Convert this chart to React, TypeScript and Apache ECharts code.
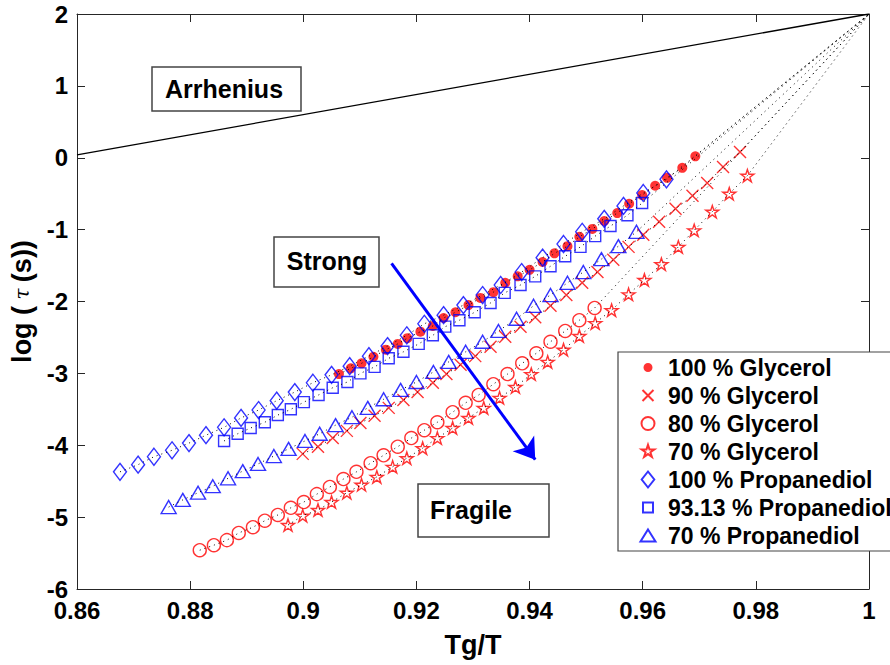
import React, { useEffect, useRef } from 'react';
import * as echarts from 'echarts';

// Relaxation time data: [Tg/T, log10(tau / s)]
const glycerol100 = [
  [0.9063, -3.01], [0.9084, -2.93], [0.9103, -2.86], [0.9124, -2.77], [0.9146, -2.67],
  [0.9167, -2.59], [0.9184, -2.51], [0.9207, -2.42], [0.9229, -2.34], [0.9248, -2.23],
  [0.9269, -2.15], [0.9292, -2.05], [0.9313, -1.95], [0.9336, -1.87], [0.9357, -1.74],
  [0.9379, -1.65], [0.94, -1.56], [0.9423, -1.45], [0.9444, -1.33], [0.9467, -1.23],
  [0.9488, -1.1], [0.9511, -0.99], [0.9532, -0.88], [0.9555, -0.77], [0.9576, -0.64],
  [0.9599, -0.52], [0.9622, -0.39], [0.9643, -0.28], [0.967, -0.14], [0.9693, 0.02],
];

const glycerol90 = [
  [0.8999, -4.12], [0.9026, -4.02], [0.9052, -3.9], [0.9077, -3.8], [0.9101, -3.69],
  [0.9126, -3.59], [0.9151, -3.48], [0.9177, -3.37], [0.9202, -3.26], [0.9229, -3.13],
  [0.9253, -3.01], [0.9278, -2.88], [0.9304, -2.76], [0.9331, -2.63], [0.9357, -2.49],
  [0.9384, -2.35], [0.941, -2.22], [0.9437, -2.06], [0.9465, -1.91], [0.9493, -1.74],
  [0.952, -1.59], [0.9548, -1.42], [0.9575, -1.24], [0.9601, -1.07], [0.9629, -0.89],
  [0.9658, -0.71], [0.9688, -0.53], [0.9714, -0.35], [0.9742, -0.13], [0.9772, 0.08],
];

const glycerol80 = [
  [0.8817, -5.46], [0.8842, -5.39], [0.8865, -5.32], [0.8886, -5.22], [0.8911, -5.14],
  [0.8932, -5.05], [0.8955, -4.97], [0.8978, -4.87], [0.9001, -4.79], [0.9024, -4.68],
  [0.9047, -4.58], [0.9071, -4.47], [0.9094, -4.37], [0.9119, -4.25], [0.9142, -4.14],
  [0.9167, -4.02], [0.9191, -3.9], [0.9214, -3.79], [0.9237, -3.68], [0.9264, -3.54],
  [0.9287, -3.41], [0.931, -3.3], [0.9336, -3.15], [0.9361, -3.01], [0.9387, -2.86],
  [0.9412, -2.72], [0.9437, -2.56], [0.9463, -2.41], [0.9488, -2.26], [0.9515, -2.09],
];

const glycerol70 = [
  [0.8973, -5.11], [0.8999, -4.98], [0.9026, -4.9], [0.905, -4.79], [0.9077, -4.66],
  [0.9103, -4.55], [0.913, -4.44], [0.9158, -4.3], [0.9183, -4.18], [0.9211, -4.04],
  [0.9237, -3.9], [0.9264, -3.76], [0.9292, -3.62], [0.9319, -3.48], [0.9347, -3.34],
  [0.9375, -3.19], [0.9403, -3.01], [0.9432, -2.84], [0.946, -2.67], [0.9488, -2.48],
  [0.9516, -2.3], [0.9545, -2.12], [0.9575, -1.9], [0.9603, -1.7], [0.9633, -1.48],
  [0.9663, -1.24], [0.9691, -1.01], [0.9723, -0.75], [0.9753, -0.5], [0.9785, -0.25],
];

const propanediol100 = [
  [0.8676, -4.37], [0.8708, -4.27], [0.8736, -4.16], [0.8768, -4.07], [0.8798, -3.97],
  [0.8828, -3.86], [0.886, -3.75], [0.889, -3.62], [0.8921, -3.51], [0.8953, -3.38],
  [0.8985, -3.26], [0.9017, -3.13], [0.905, -3.02], [0.9082, -2.9], [0.9116, -2.76],
  [0.9149, -2.62], [0.9183, -2.47], [0.9214, -2.31], [0.9248, -2.19], [0.9283, -2.05],
  [0.9317, -1.91], [0.9349, -1.77], [0.9386, -1.59], [0.9423, -1.39], [0.946, -1.2],
  [0.9493, -1.03], [0.9532, -0.85], [0.9566, -0.67], [0.9601, -0.49], [0.9642, -0.3],
];

const propanediol93 = [
  [0.886, -3.94], [0.8884, -3.84], [0.8907, -3.76], [0.8932, -3.68], [0.8955, -3.58],
  [0.8978, -3.5], [0.9001, -3.4], [0.9027, -3.3], [0.9052, -3.2], [0.9078, -3.12],
  [0.9101, -3.0], [0.9126, -2.91], [0.9151, -2.79], [0.9177, -2.7], [0.9204, -2.59],
  [0.9229, -2.47], [0.9251, -2.35], [0.9276, -2.26], [0.9303, -2.15], [0.9331, -2.02],
  [0.9356, -1.88], [0.9384, -1.77], [0.941, -1.65], [0.9437, -1.51], [0.9463, -1.37],
  [0.949, -1.24], [0.9516, -1.09], [0.9543, -0.95], [0.9573, -0.8], [0.9599, -0.63],
];

const propanediol70 = [
  [0.8762, -4.86], [0.8787, -4.76], [0.8814, -4.66], [0.884, -4.57], [0.8867, -4.46],
  [0.8893, -4.36], [0.892, -4.26], [0.8948, -4.15], [0.8974, -4.05], [0.9003, -3.94],
  [0.9029, -3.84], [0.9057, -3.72], [0.9086, -3.61], [0.9114, -3.48], [0.9142, -3.36],
  [0.9172, -3.23], [0.92, -3.12], [0.923, -2.98], [0.9257, -2.84], [0.9287, -2.7],
  [0.9317, -2.56], [0.9345, -2.41], [0.9377, -2.24], [0.9407, -2.06], [0.9437, -1.91],
  [0.9467, -1.74], [0.9495, -1.59], [0.9527, -1.41], [0.9557, -1.23], [0.9589, -1.03],
];

// All fits meet at Tg/T = 1, log(tau) = 2
const convergePoint = [1, 2];
// Arrhenius reference line
const arrheniusLine = [[0.86, 0.04], [1, 2]];
// Strong -> fragile arrow
const fragilityArrow = [[0.9156, -1.47], [0.941, -4.2]];

const xMin = 0.86;
const xMax = 1;
const xStep = 0.02;
const yMin = -6;
const yMax = 2;
const yStep = 1;

const FONT = '"Liberation Sans", Arial, Helvetica, sans-serif';
const RED = '#ff0000';
const BLUE = '#0000ff';
const AXIS = '#262626';

// Plot markers
const STAR =
  'path://M0,-10L2.245,-3.09L9.51,-3.09L3.633,1.18L5.88,8.09L0,3.82L-5.88,8.09L-3.633,1.18L-9.51,-3.09L-2.245,-3.09Z';
const CROSS = 'path://M0,0L10,10M10,0L0,10';

// Legend icons drawn inside a 16x17 box so each keeps its own marker size
const BOX = 'M0,0M16,17';
const ICON_DOT = `path://${BOX}M3.5,8.5A4.5,4.5,0,1,0,12.5,8.5A4.5,4.5,0,1,0,3.5,8.5Z`;
const ICON_CROSS = `path://${BOX}M2.5,3L13.5,14M13.5,3L2.5,14`;
const ICON_CIRCLE = `path://${BOX}M1.5,8.5A6.5,6.5,0,1,0,14.5,8.5A6.5,6.5,0,1,0,1.5,8.5Z`;
const ICON_STAR = `path://${BOX}M8,1.8L9.5,6.4L14.4,6.4L10.4,9.3L11.9,13.9L8,11.1L4.1,13.9L5.6,9.3L1.6,6.4L6.5,6.4Z`;
const ICON_DIAMOND = `path://${BOX}M8,0.5L14.3,8.5L8,16.5L1.7,8.5Z`;
const ICON_SQUARE = `path://${BOX}M3,3.5L13,3.5L13,13.5L3,13.5Z`;
const ICON_TRIANGLE = `path://${BOX}M8,2.5L15.5,14.5L0.5,14.5Z`;

type Spec = {
  name: string;
  data: number[][];
  symbol: string;
  icon: string;
  size: number | number[];
  color: string;
  filled?: boolean;
};

const specs: Spec[] = [
  { name: '100 % Glycerol', data: glycerol100, symbol: 'circle', icon: ICON_DOT, size: 10, color: RED, filled: true },
  { name: '90 % Glycerol', data: glycerol90, symbol: CROSS, icon: ICON_CROSS, size: 12, color: RED },
  { name: '80 % Glycerol', data: glycerol80, symbol: 'circle', icon: ICON_CIRCLE, size: 13, color: RED },
  { name: '70 % Glycerol', data: glycerol70, symbol: STAR, icon: ICON_STAR, size: 13, color: RED },
  { name: '100 % Propanediol', data: propanediol100, symbol: 'diamond', icon: ICON_DIAMOND, size: [13, 17], color: BLUE },
  { name: '93.13 % Propanediol', data: propanediol93, symbol: 'rect', icon: ICON_SQUARE, size: 11, color: BLUE },
  { name: '70 % Propanediol', data: propanediol70, symbol: 'triangle', icon: ICON_TRIANGLE, size: [15, 13], color: BLUE },
];

function buildOption(): echarts.EChartsOption {
  const scatterSeries = specs.map((s) => ({
    name: s.name,
    type: 'scatter' as const,
    data: s.data,
    symbol: s.symbol,
    symbolSize: s.size,
    symbolKeepAspect: true,
    z: 3,
    itemStyle: s.filled
      ? { color: s.color, borderColor: s.color, borderWidth: 0 }
      : { color: 'transparent', borderColor: s.color, borderWidth: 1.4 },
  }));

  const fitSeries = specs.map((s) => ({
    name: s.name + ' fit',
    type: 'line' as const,
    data: [...s.data, convergePoint],
    symbol: 'none',
    silent: true,
    z: 4,
    lineStyle: { color: '#000', width: 1, type: [1, 4] as number[] },
  }));

  const tickLabel = { fontFamily: FONT, fontWeight: 'bold' as const, fontSize: 24, color: '#000' };
  const axisLine = { show: true, onZero: false, lineStyle: { color: AXIS, width: 1 } };
  const axisTick = { show: true, inside: true, length: 8, lineStyle: { color: AXIS, width: 1 } };

  return {
    animation: false,
    backgroundColor: '#fff',
    grid: { left: 76, top: 14, right: 21, bottom: 76, containLabel: false },
    xAxis: [
      {
        type: 'value',
        min: xMin,
        max: xMax,
        interval: xStep,
        axisLine,
        axisTick,
        splitLine: { show: false },
        axisLabel: { ...tickLabel, margin: 9 },
        name: 'Tg/T',
        nameLocation: 'middle',
        nameGap: 42,
        nameTextStyle: { fontFamily: FONT, fontWeight: 'bold', fontSize: 27, color: '#000' },
      },
      {
        type: 'value',
        position: 'top',
        min: xMin,
        max: xMax,
        interval: xStep,
        axisLine,
        axisTick,
        splitLine: { show: false },
        axisLabel: { show: false },
      },
    ],
    yAxis: [
      {
        type: 'value',
        min: yMin,
        max: yMax,
        interval: yStep,
        axisLine,
        axisTick,
        splitLine: { show: false },
        axisLabel: { ...tickLabel, margin: 9 },
        name: '{b|log (}{t| τ }{b|(s))}',
        nameLocation: 'middle',
        nameRotate: 90,
        nameGap: 42,
        nameTextStyle: {
          rich: {
            b: { fontFamily: FONT, fontWeight: 'bold', fontSize: 27, color: '#000' },
            t: { fontFamily: '"DejaVu Serif", serif', fontStyle: 'italic', fontSize: 20, color: '#000' },
          },
        },
      },
      {
        type: 'value',
        position: 'right',
        min: yMin,
        max: yMax,
        interval: yStep,
        axisLine,
        axisTick,
        splitLine: { show: false },
        axisLabel: { show: false },
      },
    ],
    legend: {
      orient: 'vertical',
      left: 618,
      top: 352,
      padding: [4, 12, 4, 21],
      itemGap: 5,
      itemWidth: 16,
      itemHeight: 17,
      symbolKeepAspect: true,
      backgroundColor: '#fff',
      borderColor: '#444',
      borderWidth: 1.2,
      borderRadius: 0,
      selectedMode: false,
      data: specs.map((s) => ({ name: s.name, icon: s.icon })),
      textStyle: { fontFamily: FONT, fontWeight: 'bold', fontSize: 23, color: '#000', padding: [0, 0, 0, 7] },
    },
    graphic: [
      { type: 'rect', shape: { x: 152, y: 67, width: 149, height: 44 }, style: { fill: '#fff', stroke: '#444', lineWidth: 1.5 }, z: 10 },
      { type: 'text', x: 224, y: 89, style: { text: 'Arrhenius', font: `bold 25px ${FONT}`, fill: '#000', align: 'center', verticalAlign: 'middle' }, z: 11 },
      { type: 'rect', shape: { x: 274, y: 237, width: 105, height: 50 }, style: { fill: '#fff', stroke: '#444', lineWidth: 1.5 }, z: 10 },
      { type: 'text', x: 327, y: 261, style: { text: 'Strong', font: `bold 25px ${FONT}`, fill: '#000', align: 'center', verticalAlign: 'middle' }, z: 11 },
      { type: 'rect', shape: { x: 418, y: 484, width: 131, height: 53 }, style: { fill: '#fff', stroke: '#444', lineWidth: 1.5 }, z: 10 },
      { type: 'text', x: 471, y: 510, style: { text: 'Fragile', font: `bold 25px ${FONT}`, fill: '#000', align: 'center', verticalAlign: 'middle' }, z: 11 },
    ],
    series: [
      {
        name: 'Arrhenius',
        type: 'line',
        data: arrheniusLine,
        symbol: 'none',
        silent: true,
        z: 2,
        lineStyle: { color: '#000', width: 1.3 },
      },
      ...scatterSeries,
      ...fitSeries,
      {
        name: 'fragility',
        type: 'lines',
        coordinateSystem: 'cartesian2d',
        silent: true,
        z: 6,
        symbol: ['none', 'arrow'],
        symbolSize: [12, 20],
        lineStyle: { color: BLUE, width: 3, opacity: 1 },
        data: [{ coords: fragilityArrow }],
      },
    ],
  } as echarts.EChartsOption;
}

export default function App() {
  const ref = useRef<HTMLDivElement>(null);
  useEffect(() => {
    if (!ref.current) return;
    const chart = echarts.init(ref.current, undefined, { renderer: 'svg' });
    chart.setOption(buildOption());
    return () => chart.dispose();
  }, []);
  return (
    <div
      ref={ref}
      style={{ position: 'fixed', left: 0, top: 0, width: 890, height: 665, background: '#fff' }}
    />
  );
}
